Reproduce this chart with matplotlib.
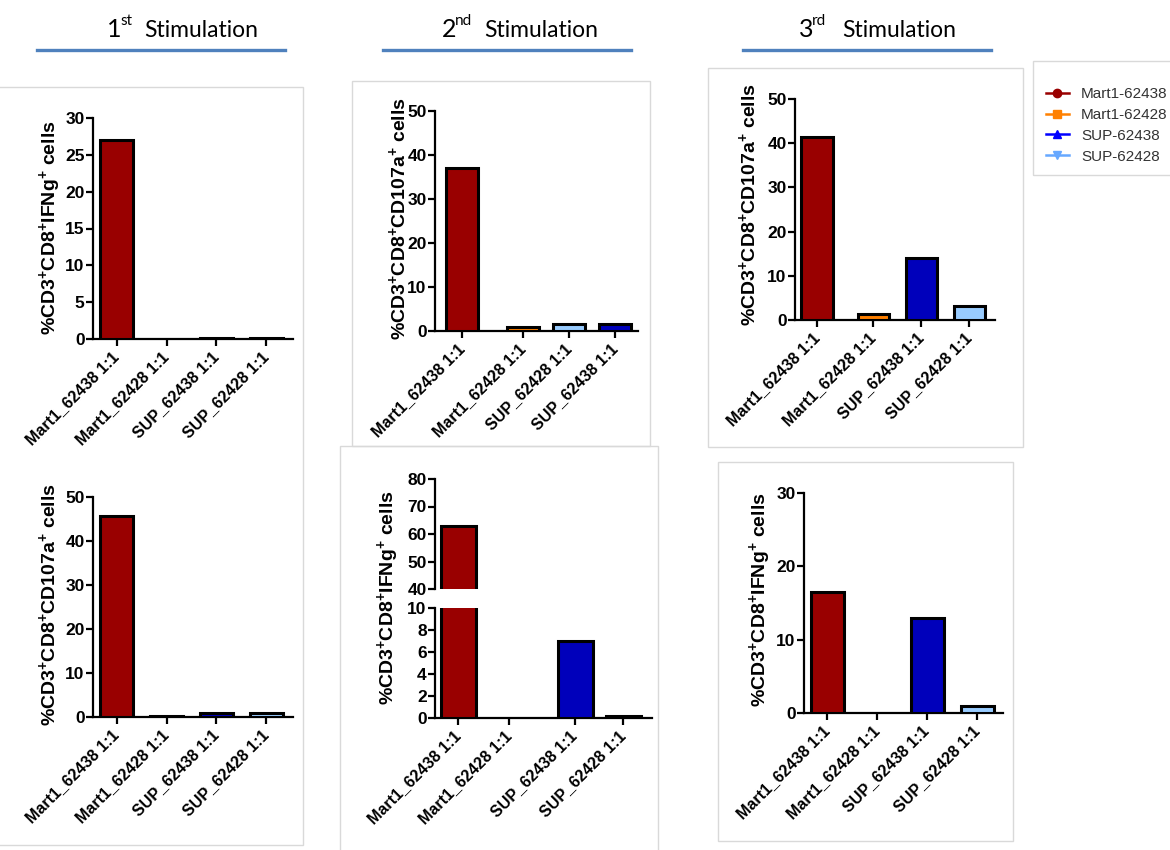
import matplotlib
matplotlib.use("Agg")
import matplotlib.pyplot as plt
from matplotlib.patches import Rectangle
from matplotlib.lines import Line2D

plt.rcParams['font.family'] = ['Liberation Sans', 'DejaVu Sans']
plt.rcParams['mathtext.fontset'] = 'custom'
plt.rcParams['mathtext.rm'] = 'Liberation Sans:bold'
plt.rcParams['mathtext.bf'] = 'Liberation Sans:bold'
plt.rcParams['mathtext.default'] = 'bf'

# groups and colours
groups = ["Mart1-62438", "Mart1-62428", "SUP-62438", "SUP-62428"]
group_colors = ["#990000", "#FF8000", "#0000BB", "#99CCFF"]
legend_colors = ["#990000", "#FF8000", "#0000FF", "#66A8FF"]
legend_markers = ["o", "s", "^", "v"]

cats = ["Mart1_62438 1:1", "Mart1_62428 1:1", "SUP_62438 1:1", "SUP_62428 1:1"]
cats_s2_cd107a = ["Mart1_62438 1:1", "Mart1_62428 1:1", "SUP_62428 1:1", "SUP_62438 1:1"]

# % positive cells per stimulation
s1_ifng = [27.0, 0.0, 0.1, 0.1]
s1_cd107a = [45.7, 0.2, 0.8, 0.8]
s2_cd107a = [37.0, 0.8, 1.5, 1.5]
s2_ifng = [63.0, 0.0, 7.0, 0.15]
s3_cd107a = [41.5, 1.3, 14.0, 3.2]
s3_ifng = [16.5, 0.0, 13.0, 0.9]

lab_ifng = r"%CD3$^{+}$CD8$^{+}$IFNg$^{+}$ cells"
lab_cd107a = r"%CD3$^{+}$CD8$^{+}$CD107a$^{+}$ cells"

W, H = 1170, 850
fig = plt.figure(figsize=(W / 100, H / 100), dpi=100)


def ax_px(l, t, r, b):
    return fig.add_axes([l / W, 1 - b / H, (r - l) / W, (b - t) / H])


def box_px(l, t, r, b):
    fig.patches.append(Rectangle((l / W, 1 - b / H), (r - l) / W, (b - t) / H,
                                 transform=fig.transFigure, fill=False,
                                 edgecolor="#d9d9d9", lw=1))


def style(ax, ylim, yticks):
    for s in ["top", "right"]:
        ax.spines[s].set_visible(False)
    for s in ["left", "bottom"]:
        ax.spines[s].set_linewidth(1.6)
    ax.set_ylim(*ylim)
    ax.set_yticks(yticks)
    ax.tick_params(axis="both", direction="out", length=5, width=1.6,
                   labelsize=12.5, pad=1)
    for t in ax.get_yticklabels():
        t.set_fontweight("bold")


def bars(ax, pos, vals, cols, width):
    # empty groups get no outline so the axis line stays thin there
    lws = [2.2 if v > 0 else 0 for v in vals]
    ax.bar(pos, vals, width, color=cols, edgecolor="black", linewidth=lws,
           zorder=3)


def panel(ax, pos, vals, cols, width, ylim, yticks, labels, xlim):
    bars(ax, pos, vals, cols, width)
    style(ax, ylim, yticks)
    ax.set_xlim(*xlim)
    ax.set_xticks(pos)
    ax.set_xticklabels(labels, rotation=45, ha="right", va="center",
                       rotation_mode="anchor", fontsize=11.5,
                       fontweight="bold")
    ax.tick_params(axis="x", pad=6)


def ylabel_px(x, y, text):
    fig.text(x / W, 1 - y / H, text, rotation=90, ha="center", va="center",
             fontsize=14, fontweight="bold")


c = group_colors
order_a = [c[0], c[1], c[2], c[3]]
order_b = [c[0], c[1], c[3], c[2]]

# panel frames
box_px(-5, 87, 303, 845)
box_px(352, 81, 650, 446)
box_px(708, 68, 1023, 447)
box_px(340, 446, 658, 860)
box_px(718, 462, 1013, 841)
box_px(1033, 61, 1185, 175)

# 1st stimulation
ax1 = ax_px(93, 118, 293, 339)
panel(ax1, [0, 1, 2, 3], s1_ifng, order_a, 0.66, (0, 30), range(0, 31, 5),
      cats, (-0.48, 3.54))
ylabel_px(50, 228, lab_ifng)

ax4 = ax_px(93, 497, 293, 717)
panel(ax4, [0, 1, 2, 3], s1_cd107a, order_a, 0.66, (0, 50), range(0, 51, 10),
      cats, (-0.48, 3.54))
ylabel_px(48, 605, lab_cd107a)

# 2nd stimulation
ax2 = ax_px(435, 111, 638, 331)
panel(ax2, [0, 1.33, 2.33, 3.33], s2_cd107a, order_b, 0.7, (0, 50),
      range(0, 51, 10), cats_s2_cd107a, (-0.59, 3.83))
ylabel_px(398, 219, lab_cd107a)

# broken axis: 40-80 on top, 0-10 below
pos5 = [0, 1.02, 2.34, 3.3]
xl5 = (-0.46, 3.88)
ax5t = ax_px(435, 479, 652, 589)
ax5b = ax_px(435, 608, 652, 718)
bars(ax5t, pos5, s2_ifng, order_a, 0.7)
style(ax5t, (40, 80), range(40, 81, 10))
ax5t.spines["bottom"].set_visible(False)
ax5t.set_xlim(*xl5)
ax5t.set_xticks([])
panel(ax5b, pos5, s2_ifng, order_a, 0.7, (0, 10), range(0, 11, 2), cats, xl5)
ylabel_px(388, 598, lab_ifng)

# 3rd stimulation
ax3 = ax_px(795, 99, 995, 320)
panel(ax3, [0, 1.17, 2.17, 3.17], s3_cd107a, order_a, 0.65, (0, 50),
      range(0, 51, 10), cats, (-0.46, 3.71))
ylabel_px(748, 205, lab_cd107a)

ax6 = ax_px(804, 493, 1003, 713)
panel(ax6, [0, 1, 2, 3], s3_ifng, order_a, 0.66, (0, 30), range(0, 31, 10),
      cats, (-0.46, 3.52))
ylabel_px(760, 600, lab_ifng)

# column headers
heads = [("1", "st", 107, 120, 144, 37, 285),
         ("2", "nd", 442, 455, 484, 383, 631),
         ("3", "rd", 799, 812, 842, 743, 991)]
for num, sup, xn, xs, xt, l0, l1 in heads:
    fig.text(xn / W, 1 - 37 / H, num, fontsize=18, family="Lato",
             ha="left", va="baseline")
    fig.text(xs / W, 1 - 25 / H, sup, fontsize=11, family="Lato",
             ha="left", va="baseline")
    fig.text(xt / W, 1 - 37 / H, "Stimulation", fontsize=16.5, family="Lato",
             ha="left", va="baseline")
    fig.lines.append(Line2D([l0 / W, l1 / W], [1 - 50 / H, 1 - 50 / H],
                            transform=fig.transFigure, color="#4F81BD",
                            lw=2.4))

# legend
handles = [Line2D([], [], color=col, marker=m, markersize=6, lw=1.8)
           for col, m in zip(legend_colors, legend_markers)]
fig.legend(handles, groups, loc="upper left",
           bbox_to_anchor=(1046 / W, 1 - 87 / H), frameon=False,
           borderpad=0, borderaxespad=0, fontsize=11, labelspacing=0.45,
           handlelength=1.5, handletextpad=0.8, labelcolor="#333333")

fig.savefig("out.png", dpi=100)
